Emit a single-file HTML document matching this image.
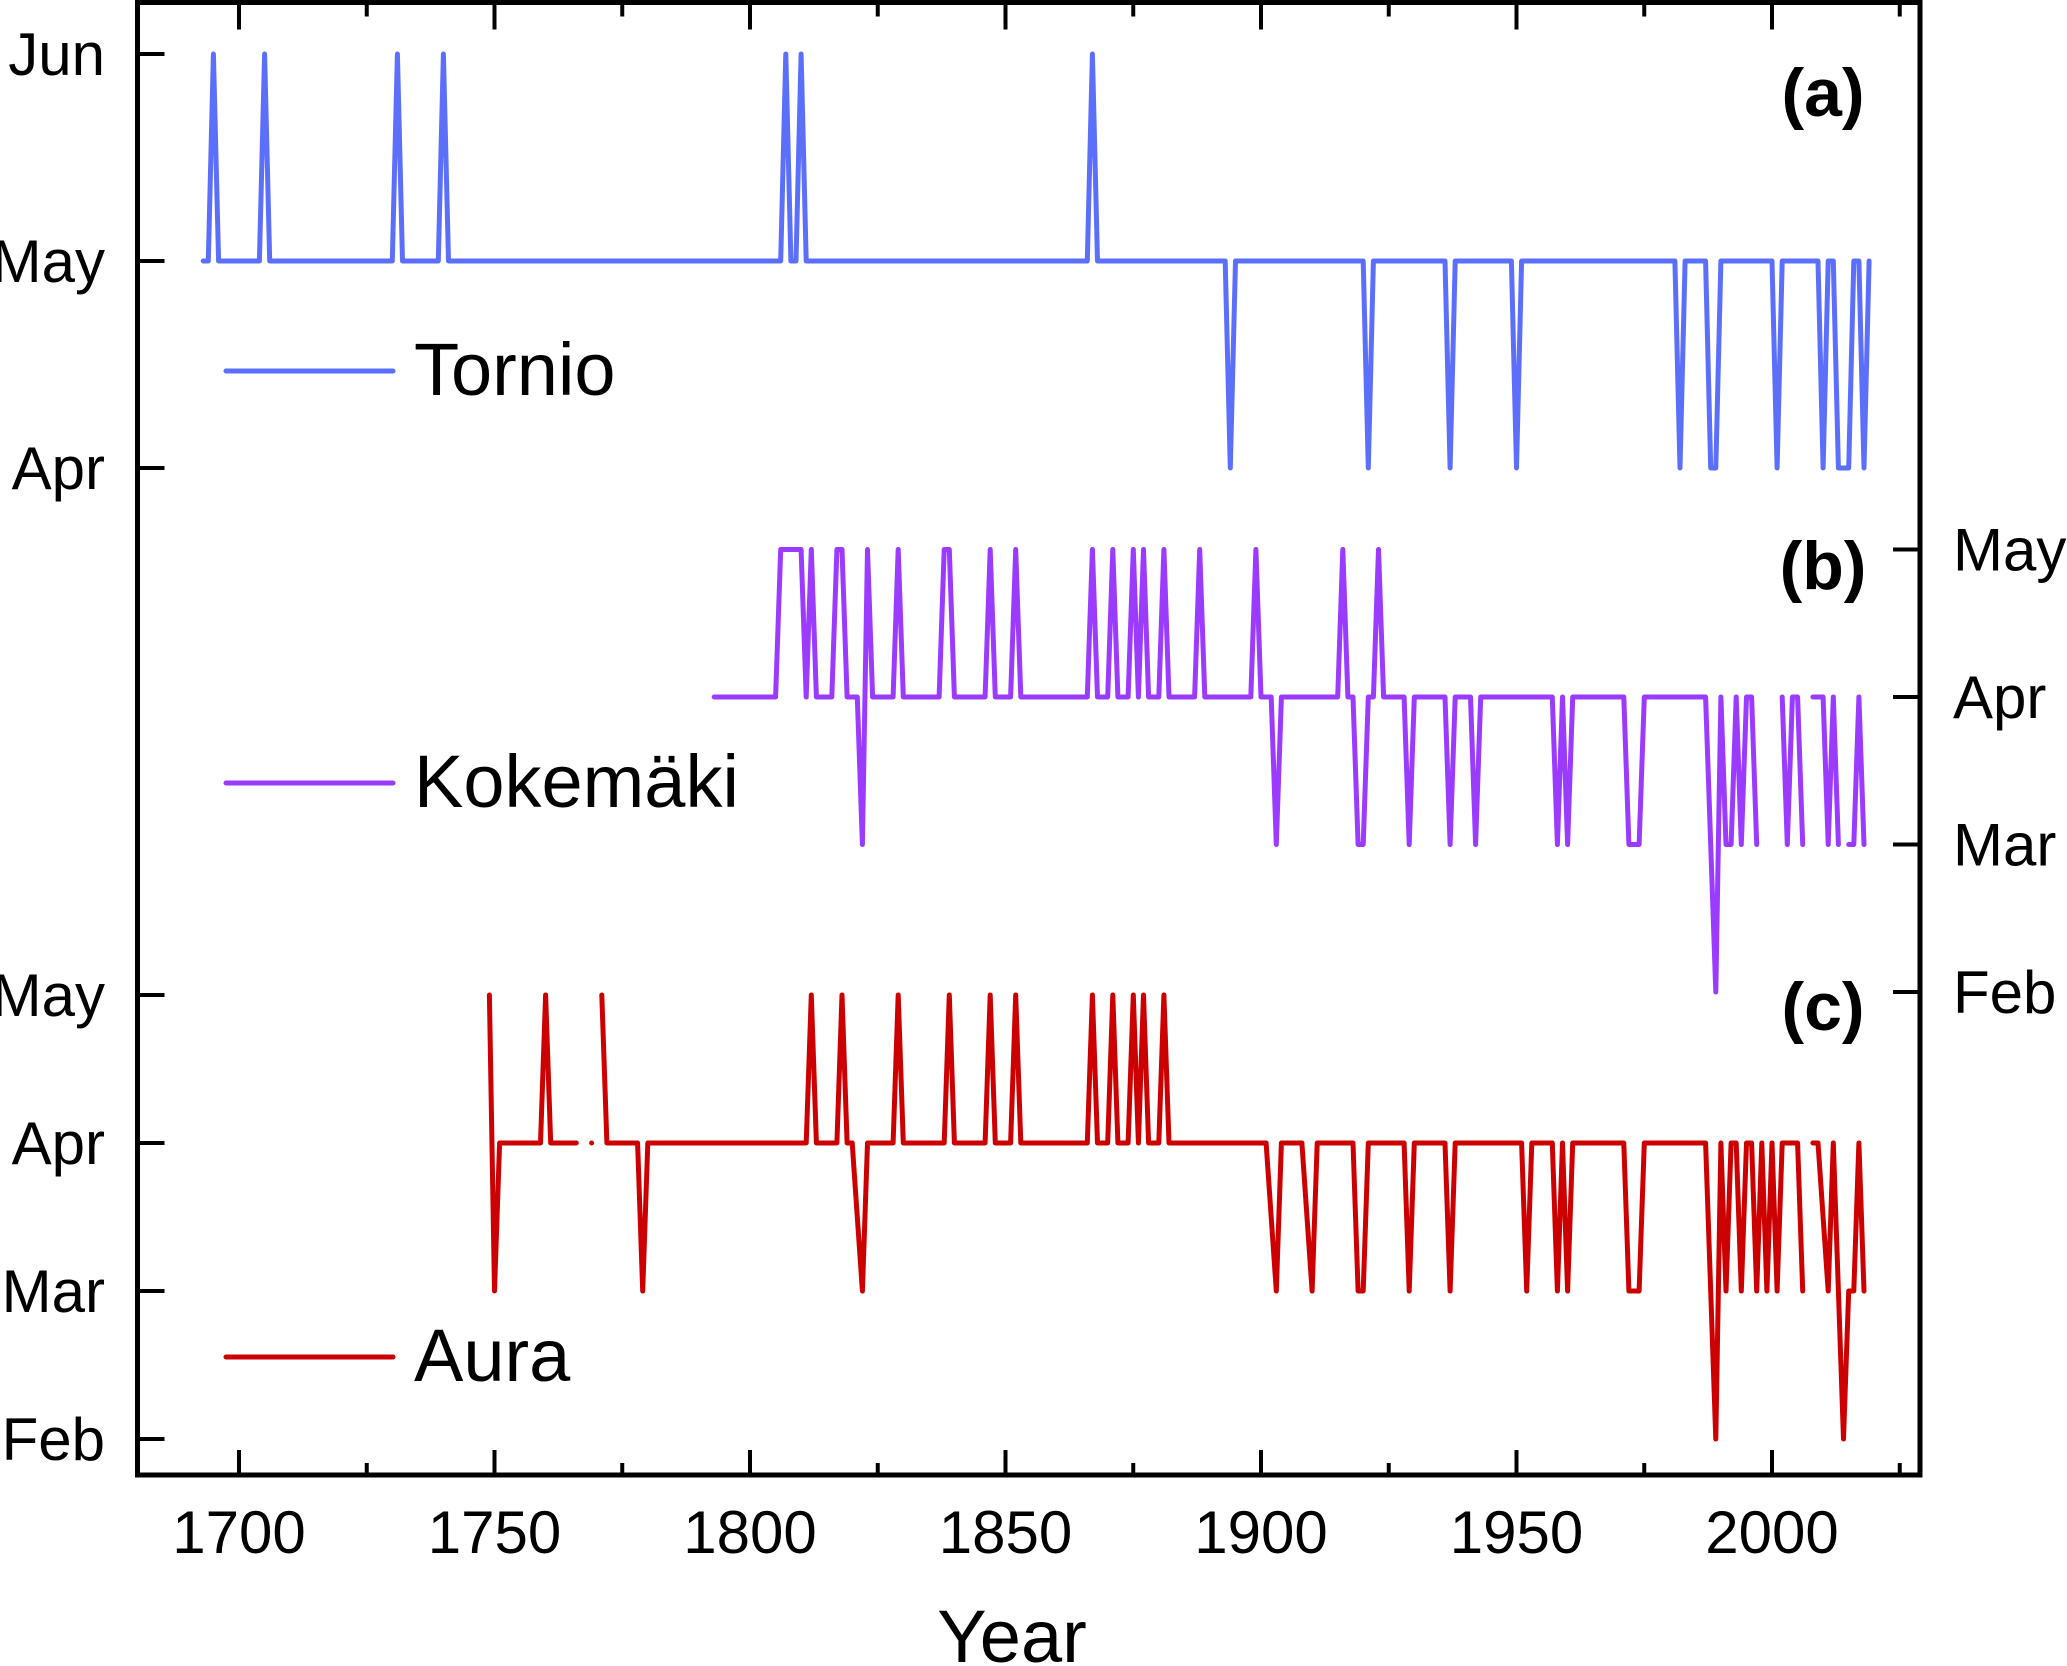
<!DOCTYPE html>
<html><head><meta charset="utf-8"><style>
html,body{margin:0;padding:0;background:#fff}
svg{display:block}
text{font-family:"Liberation Sans",Arial,sans-serif;fill:#000}
</style></head><body>
<svg id="chart" width="2067" height="1666" viewBox="0 0 2067 1666" xmlns="http://www.w3.org/2000/svg">
<g id="axes"></g>
<g id="series"></g>
<g>
 <line x1="226" y1="371" x2="393" y2="371" stroke="#5b6ffb" stroke-width="5" stroke-linecap="round"/>
 <text x="414" y="395" font-size="74">Tornio</text>
 <line x1="226" y1="783" x2="393" y2="783" stroke="#9b3bff" stroke-width="5" stroke-linecap="round"/>
 <text x="414" y="807" font-size="74">Kokemäki</text>
 <line x1="226" y1="1357" x2="393" y2="1357" stroke="#cc0000" stroke-width="5" stroke-linecap="round"/>
 <text x="414" y="1381" font-size="74">Aura</text>
</g>
<text x="1823" y="116" font-size="68" font-weight="bold" text-anchor="middle">(a)</text>
<text x="1823" y="589" font-size="68" font-weight="bold" text-anchor="middle">(b)</text>
<text x="1823" y="1030" font-size="68" font-weight="bold" text-anchor="middle">(c)</text>
<text x="1012" y="1662" font-size="74" text-anchor="middle">Year</text>
</svg>
<script>
// ---- data (month codes: 2=Feb,3=Mar,4=Apr,5=May,6=Jun) ----
const xTickYears = [1700,1750,1800,1850,1900,1950,2000];
const xMinorYears = [1725,1775,1825,1875,1925,1975,2025];
const tornioTickVals = [6,5,4];
const tornioTickLabels = ["Jun","May","Apr"];
const kokeTickVals = [5,4,3,2];
const kokeTickLabels = ["May","Apr","Mar","Feb"];
const auraTickVals = [5,4,3,2];
const auraTickLabels = ["May","Apr","Mar","Feb"];

const tornioYears = [1693,1694,1695,1696,1704,1705,1706,1730,1731,1732,1739,1740,1741,1806,1807,1808,1809,1810,1811,1866,1867,1868,1893,1894,1895,1920,1921,1922,1936,1937,1938,1949,1950,1951,1981,1982,1983,1987,1988,1989,1990,2000,2001,2002,2009,2010,2011,2012,2013,2014,2015,2016,2017,2018,2019];
const tornioVals  = [5,5,6,5,5,6,5,5,6,5,5,6,5,5,6,5,5,6,5,5,6,5,5,4,5,5,4,5,5,4,5,5,4,5,5,4,5,5,4,4,5,5,4,5,5,4,5,5,4,4,4,5,5,4,5];

const kokeYears = [1793,1805,1806,1810,1811,1812,1813,1816,1817,1818,1819,1821,1822,1823,1824,1828,1829,1830,1837,1838,1839,1840,1846,1847,1848,1851,1852,1853,1866,1867,1868,1870,1871,1872,1874,1875,1876,1877,1878,1880,1881,1882,1887,1888,1889,1898,1899,1900,1902,1903,1904,1915,1916,1917,1918,1919,1920,1921,1922,1923,1924,1928,1929,1930,1936,1937,1938,1941,1942,1943,1957,1958,1959,1960,1961,1971,1972,1974,1975,1987,1989,1990,1991,1992,1993,1994,1995,1996,1997,1999,2002,2003,2004,2005,2006,2007,2008,2010,2011,2012,2013,2014,2015,2016,2017,2018];
const kokeVals  = [4,4,5,5,4,5,4,4,5,5,4,4,3,5,4,4,5,4,4,5,5,4,4,5,4,4,5,4,4,5,4,4,5,4,4,5,4,5,4,4,5,4,4,5,4,4,5,4,4,3,4,4,5,4,4,3,3,4,4,5,4,4,3,4,4,3,4,4,3,4,4,3,4,3,4,4,3,3,4,4,2,4,3,3,4,3,4,4,3,null,4,3,4,4,3,null,4,4,3,4,3,null,3,3,4,3];

const auraYears = [1749,1750,1751,1759,1760,1761,1766,1767,1769,1770,1771,1772,1778,1779,1780,1811,1812,1813,1817,1818,1819,1820,1822,1823,1828,1829,1830,1838,1839,1840,1846,1847,1848,1851,1852,1853,1866,1867,1868,1870,1871,1872,1874,1875,1876,1877,1878,1880,1881,1882,1901,1903,1904,1908,1910,1911,1918,1919,1920,1921,1928,1929,1930,1936,1937,1938,1951,1952,1953,1957,1958,1959,1960,1961,1971,1972,1974,1975,1987,1989,1990,1991,1992,1993,1994,1995,1996,1997,1998,1999,2000,2001,2002,2005,2006,2007,2008,2009,2011,2012,2014,2015,2016,2017,2018];
const auraVals  = [5,3,4,4,5,4,4,null,4,null,5,4,4,3,4,4,5,4,4,5,4,4,3,4,4,5,4,4,5,4,4,5,4,4,5,4,4,5,4,4,5,4,4,5,4,5,4,4,5,4,4,3,4,4,3,4,4,3,3,4,4,3,4,4,3,4,4,3,4,4,3,4,3,4,4,3,3,4,4,2,4,3,4,4,3,4,4,3,4,3,4,3,4,4,3,null,4,4,3,4,2,3,3,4,3];

// ---- scales ----
function xS(yr){ return 239 + 5.11*(yr-1700); }
function yT(v){ return 261 - (v-5)*207; }
function yK(v){ return 697 - (v-4)*147.5; }
function yA(v){ return 1143 - (v-4)*148; }

const NS = "http://www.w3.org/2000/svg";
const axes = document.getElementById('axes');
const series = document.getElementById('series');
function mk(tag, attrs, parent){ const e=document.createElementNS(NS,tag); for(const k in attrs) e.setAttribute(k,attrs[k]); parent.appendChild(e); return e; }

const L=137.5, R=1920, T=2.5, B=1475;
const frame = mk('rect',{x:L,y:T,width:R-L,height:B-T,fill:'none',stroke:'#000','stroke-width':5},axes);



xTickYears.forEach(yr=>{
  const x=xS(yr);
  const t1=mk('line',{x1:x,y1:B,x2:x,y2:B-25,stroke:'#000','stroke-width':4},axes);
  
  
  const t2=mk('line',{x1:x,y1:T,x2:x,y2:T+27,stroke:'#000','stroke-width':4},axes);
  
  
  const lb=mk('text',{x:x,y:1553,'font-size':60,'text-anchor':'middle'},axes);
  lb.textContent=yr;
  
  
});
xMinorYears.forEach(yr=>{
  const x=xS(yr);
  const t1=mk('line',{x1:x,y1:B,x2:x,y2:B-12,stroke:'#000','stroke-width':4},axes);
  
  
  const t2=mk('line',{x1:x,y1:T,x2:x,y2:T+14,stroke:'#000','stroke-width':4},axes);
  
  
});

function leftTicks(vals, labels, ys, nm){
  vals.forEach((v,i)=>{
    const y=ys(v);
    const t=mk('line',{x1:L,y1:y,x2:L+27,y2:y,stroke:'#000','stroke-width':4},axes);
    
    
    const lb=mk('text',{x:105,y:y+21,'font-size':60,'text-anchor':'end'},axes);
    lb.textContent=labels[i];
    
    
  });
}
function rightTicks(vals, labels, ys, nm){
  vals.forEach((v,i)=>{
    const y=ys(v);
    const t=mk('line',{x1:R,y1:y,x2:R-27,y2:y,stroke:'#000','stroke-width':4},axes);
    
    
    const lb=mk('text',{x:1953,y:y+21,'font-size':60,'text-anchor':'start'},axes);
    lb.textContent=labels[i];
    
    
  });
}
leftTicks(tornioTickVals, tornioTickLabels, yT, 'tornio-y');
rightTicks(kokeTickVals, kokeTickLabels, yK, 'kokemaki-y');
leftTicks(auraTickVals, auraTickLabels, yA, 'aura-y');

function drawSeries(years, vals, ys, color, nm){
  let d='', pen=false;
  years.forEach((yr,i)=>{
    const v=vals[i];
    if(v===null){ pen=false; return; }
    const p=xS(yr).toFixed(1)+','+ys(v).toFixed(1);
    const nextNull = (i+1<vals.length && vals[i+1]===null);
    const prevNull = (i===0 || vals[i-1]===null);
    if(!pen){ d+='M'+p; pen=true; if(nextNull||i===vals.length-1) d+='l0.01,0'; }
    else d+='L'+p;
  });
  const path=mk('path',{d:d,fill:'none',stroke:color,'stroke-width':5,'stroke-linejoin':'round','stroke-linecap':'round'},series);
  
  
}
drawSeries(tornioYears, tornioVals, yT, '#5b6ffb', 'tornio-line');
drawSeries(kokeYears, kokeVals, yK, '#9b3bff', 'kokemaki-line');
drawSeries(auraYears, auraVals, yA, '#cc0000', 'aura-line');
</script>
</body></html>
